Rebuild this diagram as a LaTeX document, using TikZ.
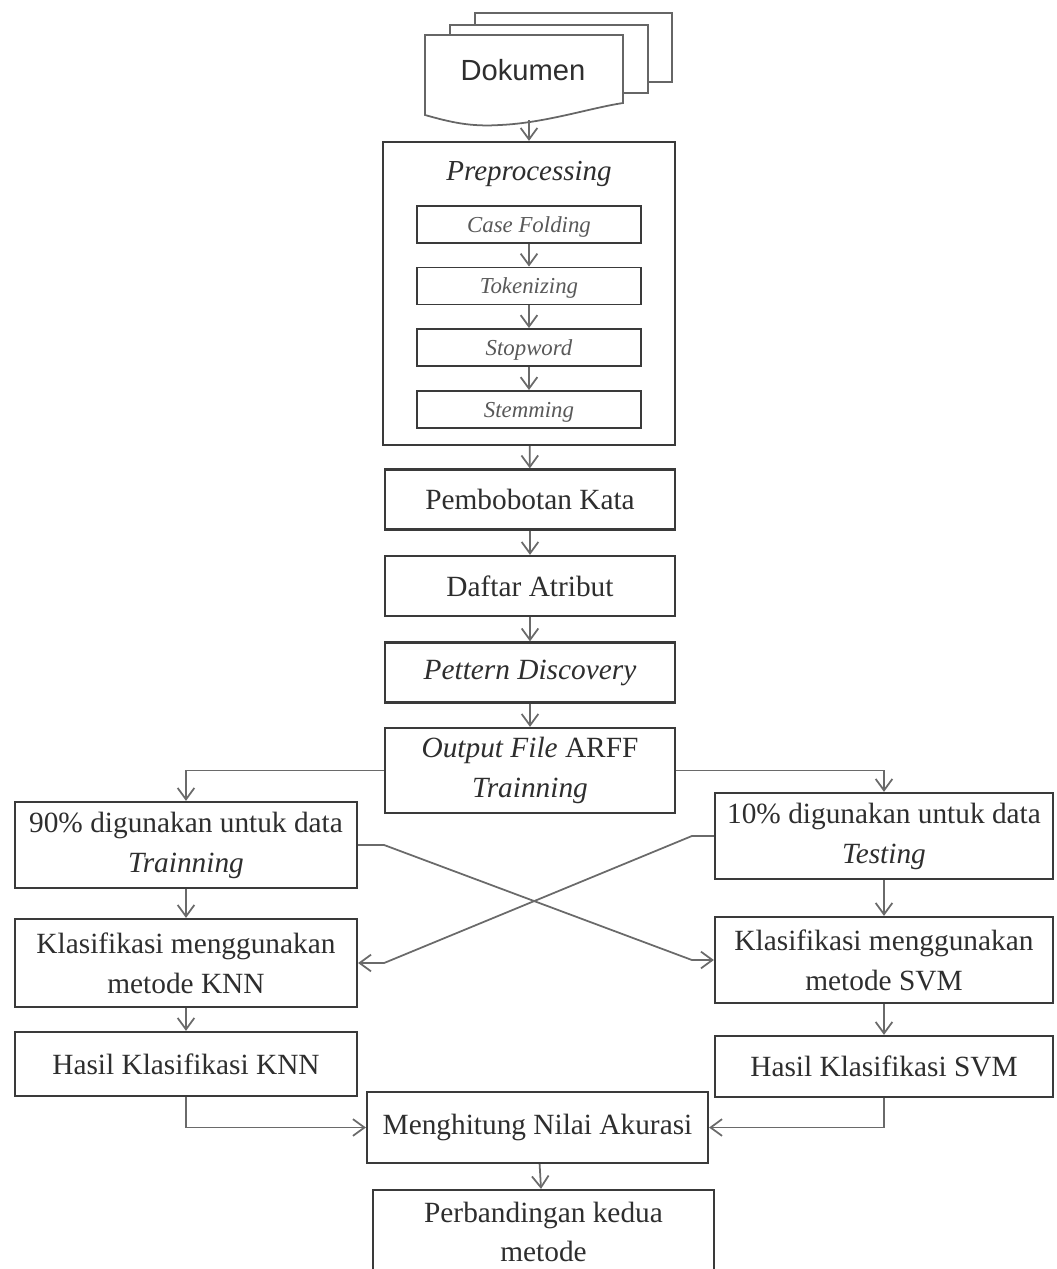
\documentclass[tikz,border=0pt]{standalone}
\usepackage{fontspec}
\setmainfont{Liberation Serif}
\newfontfamily\docfont{Liberation Sans}
\usetikzlibrary{arrows.meta}
\definecolor{boxline}{HTML}{3A3A3A}
\definecolor{arrline}{HTML}{6A6A6A}
\definecolor{txt}{HTML}{2E2E2E}

\begin{document}
\begin{tikzpicture} [
        x=0.02cm, y=-0.02cm,
        box/.style={draw=boxline, line width=1.3pt, fill=white, text=txt, align=center,
            minimum width=5.8cm, inner sep=2pt, font=\fontsize{16.7}{22.7}\selectfont},
        side box/.style={box, minimum width=6.84cm, minimum height=1.72cm},
        sub box/.style={draw=boxline, line width=1.1pt, text=black!65, minimum width=4.48cm,
            minimum height=0.74cm, inner sep=0pt, text depth=0pt, font=\fontsize{13}{15}\selectfont\itshape},
        page/.style={draw=black!60, line width=1pt, fill=white},
        flow/.style={draw=arrline, line width=1pt, -{Straight Barb[length=6.5pt,width=9.5pt]}},
    ]
    \useasboundingbox (0,0) rectangle (1056,1269);
    % The stack of documents
    \path[page] (475,13) rectangle (672,82);
    \path[page] (450,25) rectangle (648,93);
    \path[page] (425,35) -- (623,35) -- (623,103)
        .. controls (590,108) and (545,123) .. (500,125)
        .. controls (470,127) and (450,122) .. (425,115) -- cycle;
    \node[font=\docfont\fontsize{16.6}{20}\selectfont, text=txt] (dok) at (523,70) {Dokumen};
    \coordinate (dokend) at (529,120);
    % Preprocessing with its steps
    \node[box, minimum width=5.84cm, minimum height=6.06cm] (prep) at (529,293.5) {};
    \node[font=\fontsize{16.5}{20}\selectfont\itshape, text=txt] (preptitle) at (529,174) {Preprocessing};
    \foreach \pos/\name/\text in {
            {(529,224.5)/fold/Case Folding},
            {(529,286)/token/Tokenizing},
            {(529,347.5)/stop/Stopword},
            {(529,409.5)/stem/Stemming}}
        \node[sub box] (\name) at \pos {\text};
    % Main column
    \foreach \pos/\name/\text in {
            {(530,499.5)/bobot/Pembobotan Kata},
            {(530,586)/atribut/Daftar Atribut},
            {(530,672.5)/pattern/\textit{Pettern Discovery}}}
        \node[box, minimum height=1.2cm] (\name) at \pos {\text};
    \node[box, minimum height=1.7cm] (arff) at (530,770.5) {\textit{Output File} ARFF\\\textit{Trainning}};
    % Two branches
    \node[side box] (train) at (186,845) {90\% digunakan untuk data\\\textit{Trainning}};
    \node[side box, minimum width=6.76cm] (test) at (884,836) {10\% digunakan untuk data\\\textit{Testing}};
    \node[side box, minimum height=1.76cm] (knn) at (186,963) {Klasifikasi menggunakan\\metode KNN};
    \node[side box, minimum width=6.76cm] (svm) at (884,960) {Klasifikasi menggunakan\\metode SVM};
    \node[box, minimum width=6.84cm, minimum height=1.28cm] (hknn) at (186,1064) {Hasil Klasifikasi KNN};
    \node[box, minimum width=6.76cm, minimum height=1.22cm] (hsvm) at (884,1066.5) {Hasil Klasifikasi SVM};
    \node[box, minimum width=6.82cm, minimum height=1.42cm] (akurasi) at (537.5,1127.5) {Menghitung Nilai Akurasi};
    \node[box, minimum width=6.82cm, minimum height=1.68cm] (banding) at (543.5,1232) {Perbandingan kedua\\metode};
    % Connect the steps
    \draw[flow] (dokend) -- (prep);
    \foreach \source/\dest in {
            fold/token, token/stop, stop/stem,
            prep/bobot, bobot/atribut, atribut/pattern, pattern/arff,
            train/knn, test/svm, knn/hknn, svm/hsvm,
            akurasi/banding}
        \draw[flow] (\source) -- (\dest);
    \draw[flow] (arff.west) -| (train.north);
    \draw[flow] (arff.east) -| (test.north);
    \draw[flow] (train.east) -- ++(26,0) -- ([xshift=-0.44cm]svm.west) -- (svm.west);
    \draw[flow] (test.west) -- ++(-22,0) -- ([xshift=0.52cm]knn.east) -- (knn.east);
    \draw[flow] (hknn.south) |- (akurasi.west);
    \draw[flow] (hsvm.south) |- (akurasi.east);
\end{tikzpicture}
\end{document}
